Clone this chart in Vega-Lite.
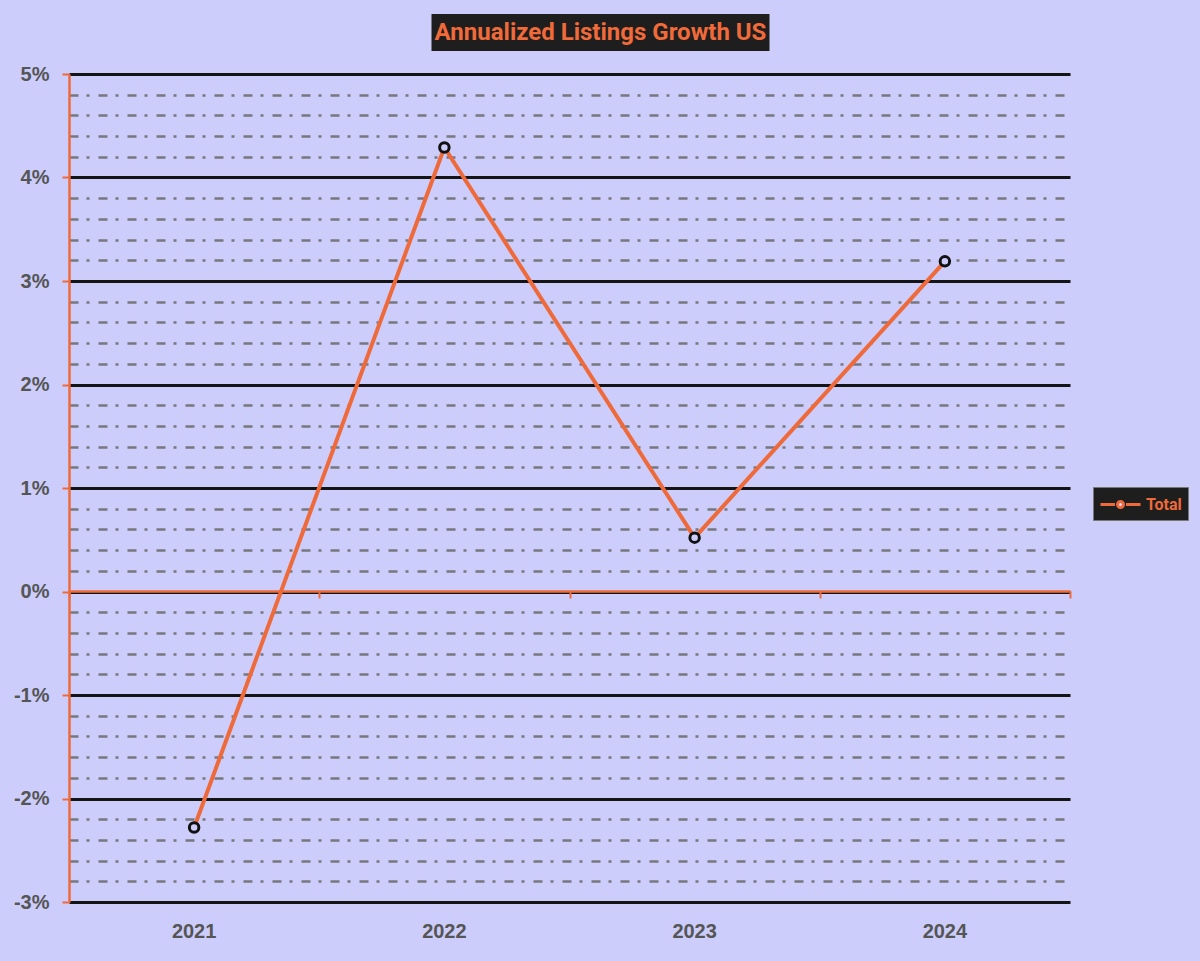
{
  "$schema": "https://vega.github.io/schema/vega-lite/v6.json",
  "background": "#cccdfb",
  "padding": {"top": 14, "left": 13, "right": 12, "bottom": 22},
  "config": {"view": {"stroke": null}, "font": "Liberation Sans"},
  "center": true,
  "spacing": 13,
  "vconcat": [
    {
      "spacing": 0,
      "hconcat": [
        {
          "width": 61,
          "height": 37,
          "data": {"values": [{"t": ""}]},
          "mark": {"type": "text", "opacity": 0},
          "encoding": {"text": {"field": "t"}}
        },
        {
          "width": 338,
          "height": 37,
          "view": {"fill": "#1e1e1e", "stroke": null},
          "data": {"values": [{"t": "Annualized Listings Growth US"}]},
          "mark": {"type": "text", "font": "Roboto", "fontWeight": "bold", "fontSize": 24, "color": "#f06a3a", "baseline": "middle"},
          "encoding": {"text": {"field": "t"}}
        }
      ]
    },
    {
      "width": 1001,
      "height": 828,
      "data": {
        "values": [
          {"year": "2021", "growth": -0.0228, "series": "Total"},
          {"year": "2022", "growth": 0.0429, "series": "Total"},
          {"year": "2023", "growth": 0.0052, "series": "Total"},
          {"year": "2024", "growth": 0.0319, "series": "Total"}
        ]
      },
      "layer": [
        {
          "mark": {"type": "point", "opacity": 0},
          "encoding": {
            "x": {
              "field": "year",
              "type": "ordinal",
              "scale": {"type": "band", "paddingInner": 0, "paddingOuter": 0},
              "axis": {
                "orient": "bottom",
                "offset": -311,
                "labels": false,
                "title": null,
                "grid": false,
                "domainColor": "#ef6a3a",
                "domainWidth": 2.5,
                "tickColor": "#ef6a3a",
                "tickWidth": 2,
                "tickSize": 7,
                "tickBand": "extent",
                "zindex": 1
              }
            },
            "y": {
              "field": "growth",
              "type": "quantitative",
              "scale": {"domain": [-0.03, 0.05], "nice": false, "zero": false},
              "axis": {
                "orient": "left",
                "values": [-0.028, -0.026, -0.024, -0.022, -0.018, -0.016, -0.014, -0.012, -0.008, -0.006, -0.004, -0.002, 0.002, 0.004, 0.006, 0.008, 0.012, 0.014, 0.016, 0.018, 0.022, 0.024, 0.026, 0.028, 0.032, 0.034, 0.036, 0.038, 0.042, 0.044, 0.046, 0.048],
                "labels": false,
                "ticks": false,
                "domain": false,
                "title": null,
                "grid": true,
                "gridColor": "#77777f",
                "gridWidth": 2.5,
                "gridDash": [9, 8, 3, 9]
              }
            }
          }
        },
        {
          "mark": {"type": "line", "strokeWidth": 4},
          "encoding": {
            "x": {
              "field": "year",
              "type": "ordinal",
              "bandPosition": 0.5,
              "axis": {
                "orient": "bottom",
                "title": null,
                "domain": false,
                "ticks": false,
                "grid": false,
                "labelAngle": 0,
                "labelFont": "Liberation Sans",
                "labelFontWeight": "bold",
                "labelFontSize": 20,
                "labelColor": "#555555",
                "labelPadding": 19
              }
            },
            "y": {
              "field": "growth",
              "type": "quantitative",
              "axis": {
                "orient": "left",
                "values": [-0.03, -0.02, -0.01, 0, 0.01, 0.02, 0.03, 0.04, 0.05],
                "labelExpr": "replace(format(datum.value, '.0%'), '\u2212', '-')",
                "title": null,
                "grid": true,
                "gridColor": "#141414",
                "gridWidth": 3,
                "domainColor": "#ef6a3a",
                "domainWidth": 2.5,
                "tickColor": "#ef6a3a",
                "tickWidth": 2,
                "tickSize": 7,
                "labelFont": "Liberation Sans",
                "labelFontWeight": "bold",
                "labelFontSize": 20,
                "labelColor": "#555555",
                "labelPadding": 13
              }
            },
            "color": {
              "field": "series",
              "type": "nominal",
              "scale": {"range": ["#ef6a3a"]},
              "legend": {
                "orient": "none",
                "legendX": 1024,
                "legendY": 473,
                "title": null,
                "fillColor": "#1e1e1e",
                "strokeColor": "#777777",
                "padding": 6,
                "labelFont": "Roboto",
                "labelFontWeight": "bold",
                "labelFontSize": 16,
                "labelColor": "#ef6a3a",
                "symbolType": "M-2,0H-0.55M0.55,0H2M0.3,0A0.3,0.3,0,1,1,-0.3,0A0.3,0.3,0,1,1,0.3,0",
                "symbolSize": 400,
                "symbolOffset": 10,
                "labelOffset": 14,
                "symbolStrokeWidth": 3,
                "symbolFillColor": "#d8d8ff",
                "encode": {"symbols": {"update": {"fill": {"value": "#d8d8ff"}}}}
              }
            }
          }
        },
        {
          "mark": {"type": "point", "filled": true, "fill": "#cccdfb", "stroke": "#111111", "strokeWidth": 3, "size": 90, "opacity": 1},
          "encoding": {
            "x": {"field": "year", "type": "ordinal", "bandPosition": 0.5, "axis": null},
            "y": {"field": "growth", "type": "quantitative", "axis": null}
          }
        }
      ],
      "resolve": {"axis": {"x": "independent", "y": "independent"}}
    }
  ]
}
